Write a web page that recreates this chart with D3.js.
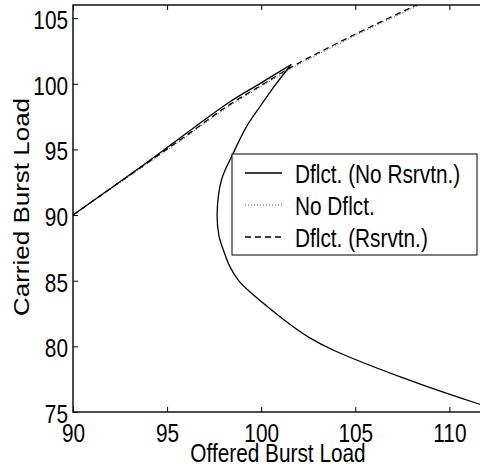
<!DOCTYPE html>
<html lang="en">
<head>
<meta charset="utf-8" />
<title>Carried vs Offered Burst Load</title>
<script src="https://d3js.org/d3.v7.min.js"></script>
<style>
  body { margin: 0; background: #fff; }
  svg { display: block; font-family: "Liberation Sans", Arial, sans-serif; }
</style>
</head>
<body>
<div id="chart"></div>
<script>
// curve values
// solid curve runs up to the tip, then folds back down (C shape)
var solidX = [90, 94, 98.34, 100, 101.6,
              100.81, 99.93, 99.22, 98.51, 97.89, 97.66, 97.76, 98.0, 98.34, 98.78, 99.49, 100.55, 101.7, 102.7, 103.82, 107.36, 111.61, 113];
var solidY = [90, 94.08, 98.63, 100.07, 101.47,
              100.03, 98.25, 96.74, 94.7, 92.67, 90.13, 88.4, 87.3, 86.07, 85.05, 84.04, 82.77, 81.5, 80.55, 79.72, 77.69, 75.59, 75.0];
var tipIndex = 4;

var otherX = [90, 92, 94, 96, 98.34, 100, 101.6, 103, 104.5, 106, 108, 109.5];
var dashedY = [90, 92.02, 94.03, 96.04, 98.43, 99.88, 101.27, 102.33, 103.42, 104.47, 105.83, 106.85];
var dottedY = [90, 91.97, 93.96, 95.95, 98.33, 99.78, 101.16, 102.22, 103.3, 104.36, 105.72, 106.75];

var xTicks = [90, 95, 100, 105, 110];
var yTicks = [75, 80, 85, 90, 95, 100, 105];
var legendLabels = ["Dflct. (No Rsrvtn.)", "No Dflct.", "Dflct. (Rsrvtn.)"];

// layout (plot box runs a little past the right edge, as in the figure)
var W = 480, H = 468;
var box = { left: 73, top: 5, bottom: 412, right: 487 };
var squeeze = 0.8;   // the original figure text is narrow

var svg = d3.select("#chart").append("svg")
  .attr("width", W)
  .attr("height", H);

var x = d3.scaleLinear().domain([90, 112]).range([box.left, box.right]);
var y = d3.scaleLinear().domain([75, 106]).range([box.bottom, box.top]);

svg.append("clipPath").attr("id", "plotclip")
  .append("rect")
  .attr("x", box.left).attr("y", box.top)
  .attr("width", box.right - box.left).attr("height", box.bottom - box.top);

// axes, ticks pointing inward
var xAxis = svg.append("g")
  .attr("transform", "translate(0," + box.bottom + ")")
  .call(d3.axisBottom(x).tickValues(xTicks).tickSizeInner(-5).tickSizeOuter(0).tickPadding(12));
xAxis.select(".domain").remove();
xAxis.selectAll("text")
  .attr("font-size", 26)
  .attr("font-family", "Liberation Sans, Arial, sans-serif")
  .attr("fill", "#000")
  .attr("transform", "scale(" + squeeze + ",1)");

svg.append("g")
  .attr("transform", "translate(0," + box.top + ")")
  .call(d3.axisTop(x).tickValues(xTicks).tickSizeInner(-5).tickSizeOuter(0).tickFormat(""))
  .select(".domain").remove();

var yAxis = svg.append("g")
  .attr("transform", "translate(" + box.left + ",0)")
  .call(d3.axisLeft(y).tickValues(yTicks).tickSizeInner(-5).tickSizeOuter(0));
yAxis.select(".domain").remove();
yAxis.selectAll("text")
  .attr("font-size", 26)
  .attr("font-family", "Liberation Sans, Arial, sans-serif")
  .attr("fill", "#000")
  .attr("x", -5 / squeeze)
  .attr("dy", "0.4em")
  .attr("transform", "scale(" + squeeze + ",1)");

svg.selectAll(".tick line").attr("stroke", "#000").attr("stroke-width", 1);

// frame
svg.append("rect")
  .attr("x", box.left).attr("y", box.top)
  .attr("width", box.right - box.left).attr("height", box.bottom - box.top)
  .attr("fill", "none")
  .attr("stroke", "#000")
  .attr("stroke-width", 1.4);

// curves
var plot = svg.append("g").attr("clip-path", "url(#plotclip)");

var pts = function(xs, ys) {
  return xs.map(function(d, i) { return [d, ys[i]]; });
};
var smooth = d3.line()
  .x(function(d) { return x(d[0]); })
  .y(function(d) { return y(d[1]); })
  .curve(d3.curveCatmullRom);
var mono = d3.line()
  .x(function(d) { return x(d[0]); })
  .y(function(d) { return y(d[1]); })
  .curve(d3.curveMonotoneX);

plot.append("path")
  .attr("d", mono(pts(otherX, dottedY)))
  .attr("fill", "none")
  .attr("stroke", "#555")
  .attr("stroke-width", 1)
  .attr("stroke-dasharray", "1,2");

plot.append("path")
  .attr("d", mono(pts(otherX, dashedY)))
  .attr("fill", "none")
  .attr("stroke", "#000")
  .attr("stroke-width", 1.3)
  .attr("stroke-dasharray", "6,4");

var solid = pts(solidX, solidY);
plot.append("path")
  .attr("d", smooth(solid.slice(0, tipIndex + 1)))
  .attr("fill", "none")
  .attr("stroke", "#000")
  .attr("stroke-width", 1.3);
plot.append("path")
  .attr("d", smooth(solid.slice(tipIndex)))
  .attr("fill", "none")
  .attr("stroke", "#000")
  .attr("stroke-width", 1.3);

// legend
var legend = svg.append("g");
legend.append("rect")
  .attr("x", 232).attr("y", 154)
  .attr("width", 245).attr("height", 101)
  .attr("fill", "#fff")
  .attr("stroke", "#000")
  .attr("stroke-width", 1);

var styles = [
  { stroke: "#000", width: 1.3, dash: null },
  { stroke: "#555", width: 1, dash: "1,2" },
  { stroke: "#000", width: 1.3, dash: "6,4" }
];
var rowY = [173, 205, 237];

legendLabels.forEach(function(label, i) {
  legend.append("line")
    .attr("x1", 245).attr("x2", 282)
    .attr("y1", rowY[i]).attr("y2", rowY[i])
    .attr("stroke", styles[i].stroke)
    .attr("stroke-width", styles[i].width)
    .attr("stroke-dasharray", styles[i].dash);
  legend.append("text")
    .attr("transform", "translate(295," + (rowY[i] + 10) + ") scale(" + squeeze + ",1)")
    .attr("font-size", 26)
    .attr("fill", "#000")
    .text(label);
});

// axis titles
svg.append("text")
  .attr("transform", "translate(278,462) scale(" + squeeze + ",1)")
  .attr("text-anchor", "middle")
  .attr("font-size", 26)
  .attr("fill", "#000")
  .text("Offered Burst Load");

svg.append("text")
  .attr("transform", "translate(29,207) scale(0.85,1) rotate(-90)")
  .attr("text-anchor", "middle")
  .attr("font-size", 26)
  .attr("fill", "#000")
  .text("Carried Burst Load");
</script>
</body>
</html>
